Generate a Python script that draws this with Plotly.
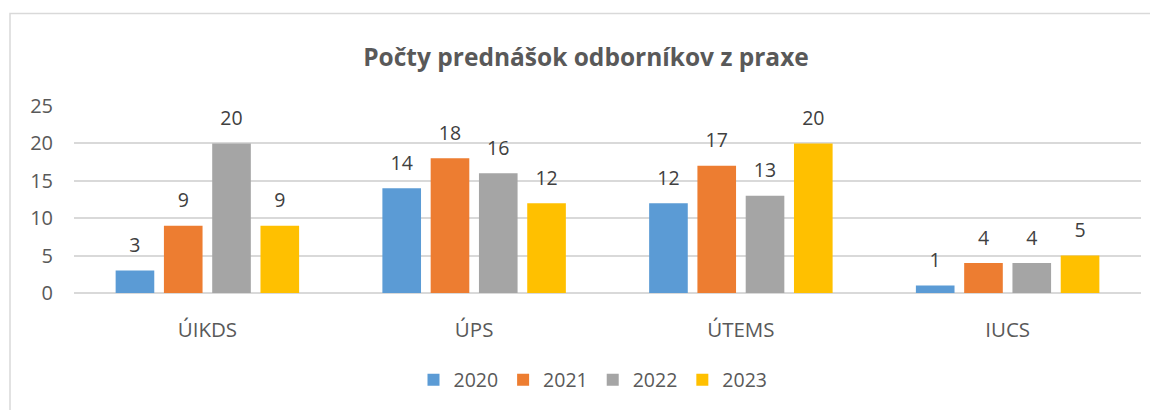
import plotly.graph_objects as go

categories = ["ÚIKDS", "ÚPS", "ÚTEMS", "IUCS"]
years = ["2020", "2021", "2022", "2023"]
v2020 = [3, 14, 12, 1]
v2021 = [9, 18, 17, 4]
v2022 = [20, 16, 13, 4]
v2023 = [9, 12, 20, 5]
series = [v2020, v2021, v2022, v2023]
colors = ["#5B9BD5", "#ED7D31", "#A5A5A5", "#FFC000"]

# page body has an 8px default margin; compensate
OFF = 8
W, H = 1158 - OFF, 410 - OFF
ml, mt = 74 - OFF, 106 - OFF
pw, ph = 1067, 188
mr = W - ml - pw
mb = H - mt - ph

fig = go.Figure()
for i, (yr, vals) in enumerate(zip(years, series)):
    fig.add_trace(go.Bar(
        x=categories, y=vals, name=yr, marker_color=colors[i],
        marker_line_width=0, offsetgroup=str(i), legendgroup=yr,
    ))
for i, (yr, vals) in enumerate(zip(years, series)):
    fig.add_trace(go.Scatter(
        x=categories, y=vals, mode="markers+text", text=[str(v) for v in vals],
        textposition="top center", offsetgroup=str(i), legendgroup=yr,
        marker=dict(size=20, opacity=0), showlegend=False, hoverinfo="skip",
        textfont=dict(family="Open Sans, sans-serif", size=19.5, color="#404040"),
    ))

def px_x(p):
    return (p - OFF - ml) / pw

def px_y(p):
    return (mt + ph - (p - OFF)) / ph

fig.add_shape(type="rect", xref="paper", yref="paper",
              x0=px_x(10), x1=px_x(1170), y0=px_y(13), y1=px_y(425),
              line=dict(color="#D9D9D9", width=1.5), fillcolor="rgba(0,0,0,0)", layer="below")

fig.update_layout(
    width=W, height=H,
    margin=dict(l=ml, r=mr, t=mt, b=mb),
    paper_bgcolor="white", plot_bgcolor="white",
    barmode="group", bargap=0.276, bargroupgap=0.2,
    scattermode="group", scattergap=0.276,
    title=dict(text="<b>Počty prednášok odborníkov z praxe</b>", x=(586 - OFF) / W, xanchor="center",
               y=1 - (57 - OFF) / H, yanchor="middle",
               font=dict(family="Open Sans, sans-serif", size=24.5, color="#595959")),
    font=dict(family="Open Sans, sans-serif", color="#595959", size=16),
    legend=dict(orientation="h", x=px_x(593), xanchor="center", y=px_y(380), yanchor="middle",
                font=dict(size=19.5, color="#595959"), itemwidth=30, tracegroupgap=0,
                traceorder="normal"),
    showlegend=True,
)
fig.update_xaxes(showgrid=False, showline=False, ticks="", tickfont=dict(size=20.5, color="#595959"),
                 ticklabelstandoff=22)
fig.update_yaxes(range=[0, 25], dtick=5, showgrid=True, gridcolor="#D9D9D9", gridwidth=1.5,
                 zeroline=True, zerolinecolor="#D9D9D9", zerolinewidth=1.5, showline=False,
                 tickfont=dict(size=20, color="#595959"), ticklabelstandoff=20)

fig.write_html("out.html")
